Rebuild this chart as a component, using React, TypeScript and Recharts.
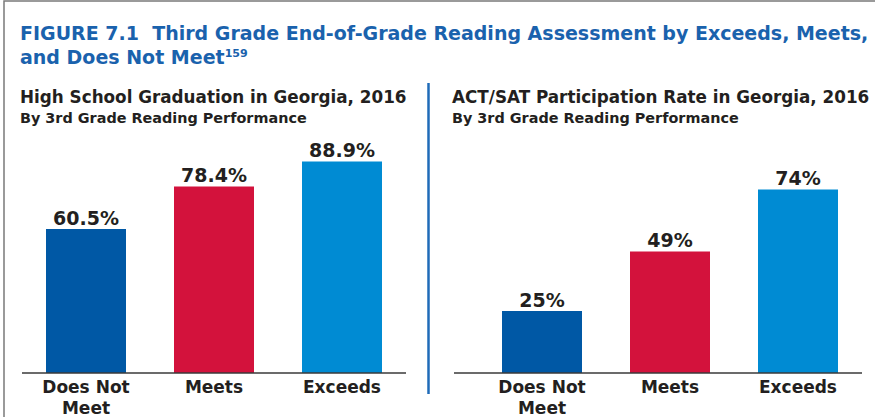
import { BarChart, Bar, XAxis, YAxis, Cell, LabelList, Text } from "recharts";

const categories = ["Does Not Meet", "Meets", "Exceeds"];
const graduationRates = [60.5, 78.4, 88.9];
const actSatRates = [25, 49, 74];

const barColors = ["#0058a5", "#d3123c", "#008bd3"];
const font = "'DejaVu Sans', sans-serif";
const dark = "#231f20";
const blue = "#1a62ad";

const toRows = (values: number[]) =>
  categories.map((name, i) => ({ name, value: values[i] }));

const CategoryTick = (props: any) => {
  const { x, y, payload } = props;
  return (
    <Text
      x={x}
      y={y + 8}
      width={110}
      textAnchor="middle"
      verticalAnchor="start"
      lineHeight={21}
      fill={dark}
      style={{ fontFamily: font, fontWeight: 700, fontSize: 17 }}
    >
      {payload.value}
    </Text>
  );
};

interface PanelProps {
  values: number[];
  width: number;
  marginTop: number;
  marginLeft: number;
  marginRight: number;
  padLeft: number;
}

function Panel({ values, width, marginTop, marginLeft, marginRight, padLeft }: PanelProps) {
  return (
    <BarChart
      width={width}
      height={417}
      data={toRows(values)}
      margin={{ top: marginTop, right: marginRight, bottom: 0, left: marginLeft }}
      barSize={80}
    >
      <YAxis hide domain={[0, 100]} />
      <XAxis
        dataKey="name"
        height={44}
        tickSize={0}
        tickMargin={0}
        tickLine={false}
        interval={0}
        padding={{ left: padLeft, right: 0 }}
        axisLine={{ stroke: "#3a3a3a", strokeWidth: 1.5 }}
        tick={<CategoryTick />}
      />
      <Bar dataKey="value" isAnimationActive={false}>
        {values.map((_, i) => (
          <Cell key={i} fill={barColors[i % barColors.length]} />
        ))}
        <LabelList
          dataKey="value"
          position="top"
          offset={4}
          formatter={(v: any) => `${v}%`}
          style={{ fontFamily: font, fontWeight: 700, fontSize: 19, fill: dark }}
        />
      </Bar>
    </BarChart>
  );
}

export default function App() {
  return (
    <div style={{ position: "relative", width: 875, height: 417, background: "#fff", overflow: "hidden" }}>
      <style>{"body{margin:0}"}</style>
      <svg width={875} height={417} style={{ position: "absolute", left: 0, top: 0 }}>
        <rect x={4} y={1} width={900} height={500} fill="none" stroke="#7a7a7a" strokeWidth={1.5} />
        <g style={{ fontFamily: font, fontWeight: 700 }}>
          <text x={20} y={40} fill={blue} fontSize={19}>
            FIGURE 7.1{"\u00a0\u00a0"}Third Grade End-of-Grade Reading Assessment by Exceeds, Meets,
          </text>
          <text x={20} y={64} fill={blue} fontSize={19}>
            and Does Not Meet
            <tspan fontSize={11} dy={-7}>159</tspan>
          </text>
          <text x={20} y={102.7} fill={dark} fontSize={16.8}>
            High School Graduation in Georgia, 2016
          </text>
          <text x={20} y={122.7} fill={dark} fontSize={14.4}>
            By 3rd Grade Reading Performance
          </text>
          <text x={452} y={102.7} fill={dark} fontSize={16.8}>
            ACT/SAT Participation Rate in Georgia, 2016
          </text>
          <text x={452} y={122.7} fill={dark} fontSize={14.4}>
            By 3rd Grade Reading Performance
          </text>
        </g>
        <line x1={428.5} y1={83} x2={428.5} y2={394} stroke="#1f6bb8" strokeWidth={2.5} />
      </svg>
      <div style={{ position: "absolute", left: 0, top: 0 }}>
        <Panel values={graduationRates} width={430} marginTop={135} marginLeft={22} marginRight={24} padLeft={0} />
      </div>
      <div style={{ position: "absolute", left: 430, top: 0 }}>
        <Panel values={actSatRates} width={445} marginTop={125} marginLeft={24} marginRight={13} padLeft={24} />
      </div>
    </div>
  );
}
